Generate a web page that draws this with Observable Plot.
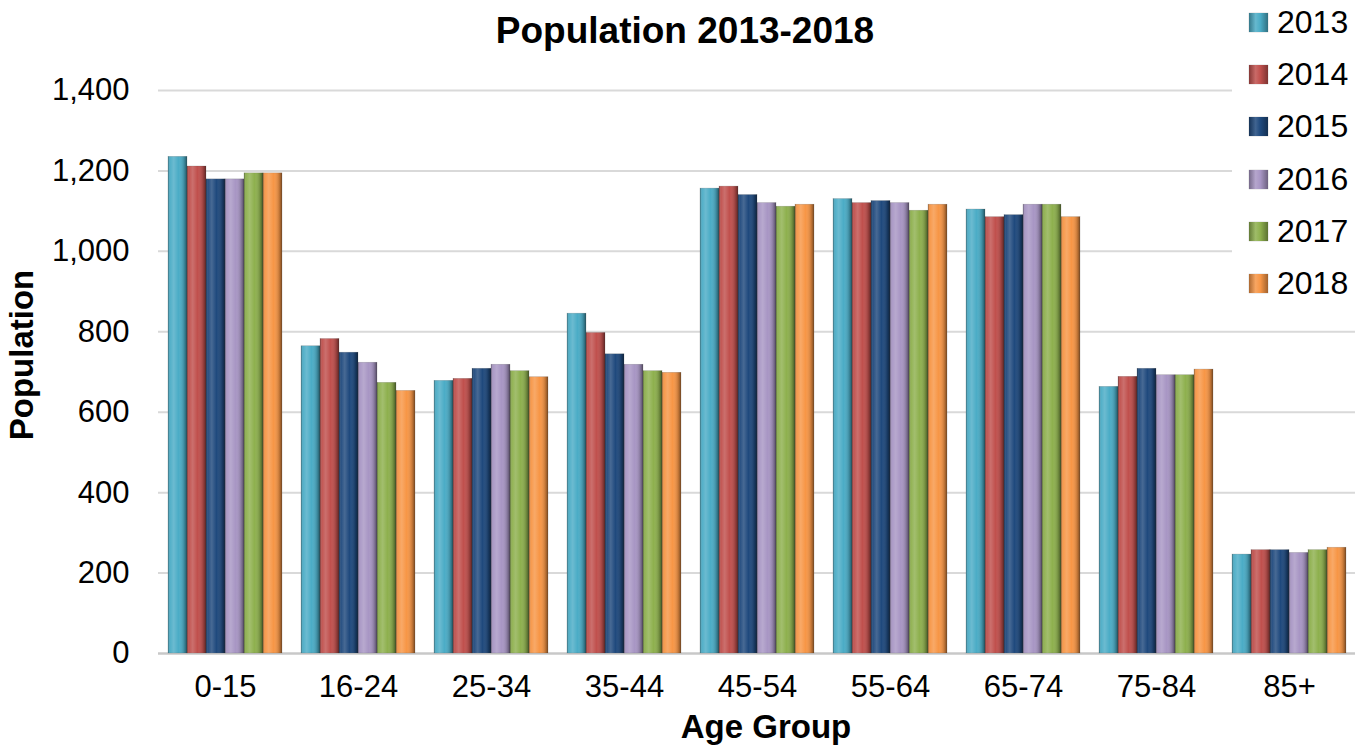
<!DOCTYPE html>
<html>
<head>
<meta charset="utf-8">
<script src="https://cdn.jsdelivr.net/npm/d3@7"></script>
<script src="https://cdn.jsdelivr.net/npm/@observablehq/plot@0.6"></script>
<style>
  html, body { margin: 0; padding: 0; background: #fff; }
  body { font-family: "Liberation Sans", Arial, sans-serif; }
  #wrap { position: relative; width: 1363px; height: 746px; overflow: hidden; }
  #wrap svg.plot, #wrap > svg { position: absolute; left: 0; top: 0; }
  .title { position: absolute; left: 685px; top: 31px; transform: translate(-50%, -50%); font-weight: bold; font-size: 37px; white-space: nowrap; color: #000; }
  .xtitle { position: absolute; left: 766px; top: 727px; transform: translate(-50%, -50%); font-weight: bold; font-size: 33px; white-space: nowrap; color: #000; }
  .ytitle { position: absolute; left: 22px; top: 355px; transform: translate(-50%, -50%) rotate(-90deg); font-weight: bold; font-size: 33px; white-space: nowrap; color: #000; }
  .legend { position: absolute; left: 1232px; top: 0; width: 131px; height: 305px; background: #fff; }
  .legend .item { position: absolute; left: 17px; height: 34px; display: flex; align-items: center; white-space: nowrap; font-size: 32px; color: #000; }
  .legend .sw { width: 19px; height: 19px; margin-right: 9px; box-shadow: 0 0 1px rgba(0,0,0,0.4); }
</style>
</head>
<body>
<svg width="0" height="0" style="position:absolute">
  <defs>
    <linearGradient id="shade" x1="0" x2="1" y1="0" y2="0">
      <stop offset="0" stop-color="#000" stop-opacity="0.35"/>
      <stop offset="0.12" stop-color="#fff" stop-opacity="0.05"/>
      <stop offset="0.3" stop-color="#fff" stop-opacity="0.18"/>
      <stop offset="0.55" stop-color="#fff" stop-opacity="0"/>
      <stop offset="0.85" stop-color="#000" stop-opacity="0.2"/>
      <stop offset="1" stop-color="#000" stop-opacity="0.5"/>
    </linearGradient>
  </defs>
</svg>
<div id="wrap">
  <div class="title">Population 2013-2018</div>
  <div class="xtitle">Age Group</div>
  <div class="ytitle">Population</div>
  <div class="legend" id="legend"></div>
</div>
<script>
const groups = ["0-15", "16-24", "25-34", "35-44", "45-54", "55-64", "65-74", "75-84", "85+"];
const years = ["2013", "2014", "2015", "2016", "2017", "2018"];
const v2013 = [1235, 764, 678, 845, 1156, 1130, 1104, 663, 246];
const v2014 = [1211, 782, 683, 797, 1161, 1120, 1085, 688, 257];
const v2015 = [1179, 748, 708, 744, 1140, 1125, 1090, 708, 257];
const v2016 = [1179, 723, 718, 718, 1120, 1120, 1116, 692, 250];
const v2017 = [1194, 673, 702, 702, 1111, 1101, 1116, 692, 257];
const v2018 = [1194, 653, 687, 698, 1116, 1116, 1085, 706, 263];
const yTicks = [0, 200, 400, 600, 800, 1000, 1200, 1400];
const colors = ["#4BACC6", "#C0504D", "#1F497D", "#A896C4", "#8EB04E", "#F79646"];

const series = [v2013, v2014, v2015, v2016, v2017, v2018];
const data = [];
groups.forEach((g, i) => years.forEach((yr, j) => data.push({group: g, year: yr, value: series[j][i]})));

const W = 1363, H = 746;
const common = {width: W, height: H, marginLeft: 158, marginRight: 8, marginTop: 90, marginBottom: 93};
const fmt = d3.format(",");

// Background layer: gridlines, axis line, y tick labels
const back = Plot.plot({
  ...common,
  style: {fontSize: "31px", fontFamily: "'Liberation Sans', Arial, sans-serif", color: "#000", background: "transparent"},
  y: {domain: [0, 1400], ticks: yTicks.length - 1, tickFormat: d => fmt(d), tickSize: 0, tickPadding: 29, label: null},
  marks: [
    Plot.ruleY(yTicks.filter(d => d > 0), {stroke: "#d9d9d9", strokeWidth: 2}),
    Plot.ruleY([0], {stroke: "#c8c8c8", strokeWidth: 2.5})
  ]
});

// Foreground layer: grouped bars
const front = Plot.plot({
  ...common,
  style: {fontSize: "31px", fontFamily: "'Liberation Sans', Arial, sans-serif", color: "#000", background: "transparent"},
  facet: {data, x: "group"},
  fx: {domain: groups, paddingInner: 0.113, paddingOuter: 0.055, tickSize: 0, tickPadding: 21, label: null},
  x: {domain: years, padding: 0, axis: null},
  y: {domain: [0, 1400], axis: null},
  color: {domain: years, range: colors},
  marks: [
    Plot.barY(data, {x: "year", y: "value", fill: "year", stroke: "rgba(90,90,90,0.35)", strokeWidth: 0.6}),
    Plot.barY(data, {x: "year", y: "value", fill: "url(#shade)"})
  ]
});

const wrap = document.getElementById("wrap");
wrap.insertBefore(front, wrap.firstChild);
wrap.insertBefore(back, wrap.firstChild);

const legend = document.getElementById("legend");
const legendY = [22, 74, 126, 179, 231, 283];
years.forEach((yr, j) => {
  const it = document.createElement("div");
  it.className = "item";
  it.style.top = (legendY[j] - 17) + "px";
  const sw = document.createElement("span");
  sw.className = "sw";
  sw.style.background = `linear-gradient(90deg, rgba(0,0,0,0.3), rgba(255,255,255,0.15) 35%, rgba(0,0,0,0) 60%, rgba(0,0,0,0.35)), ${colors[j]}`;
  const tx = document.createElement("span");
  tx.textContent = yr;
  it.appendChild(sw);
  it.appendChild(tx);
  legend.appendChild(it);
});
</script>
</body>
</html>
